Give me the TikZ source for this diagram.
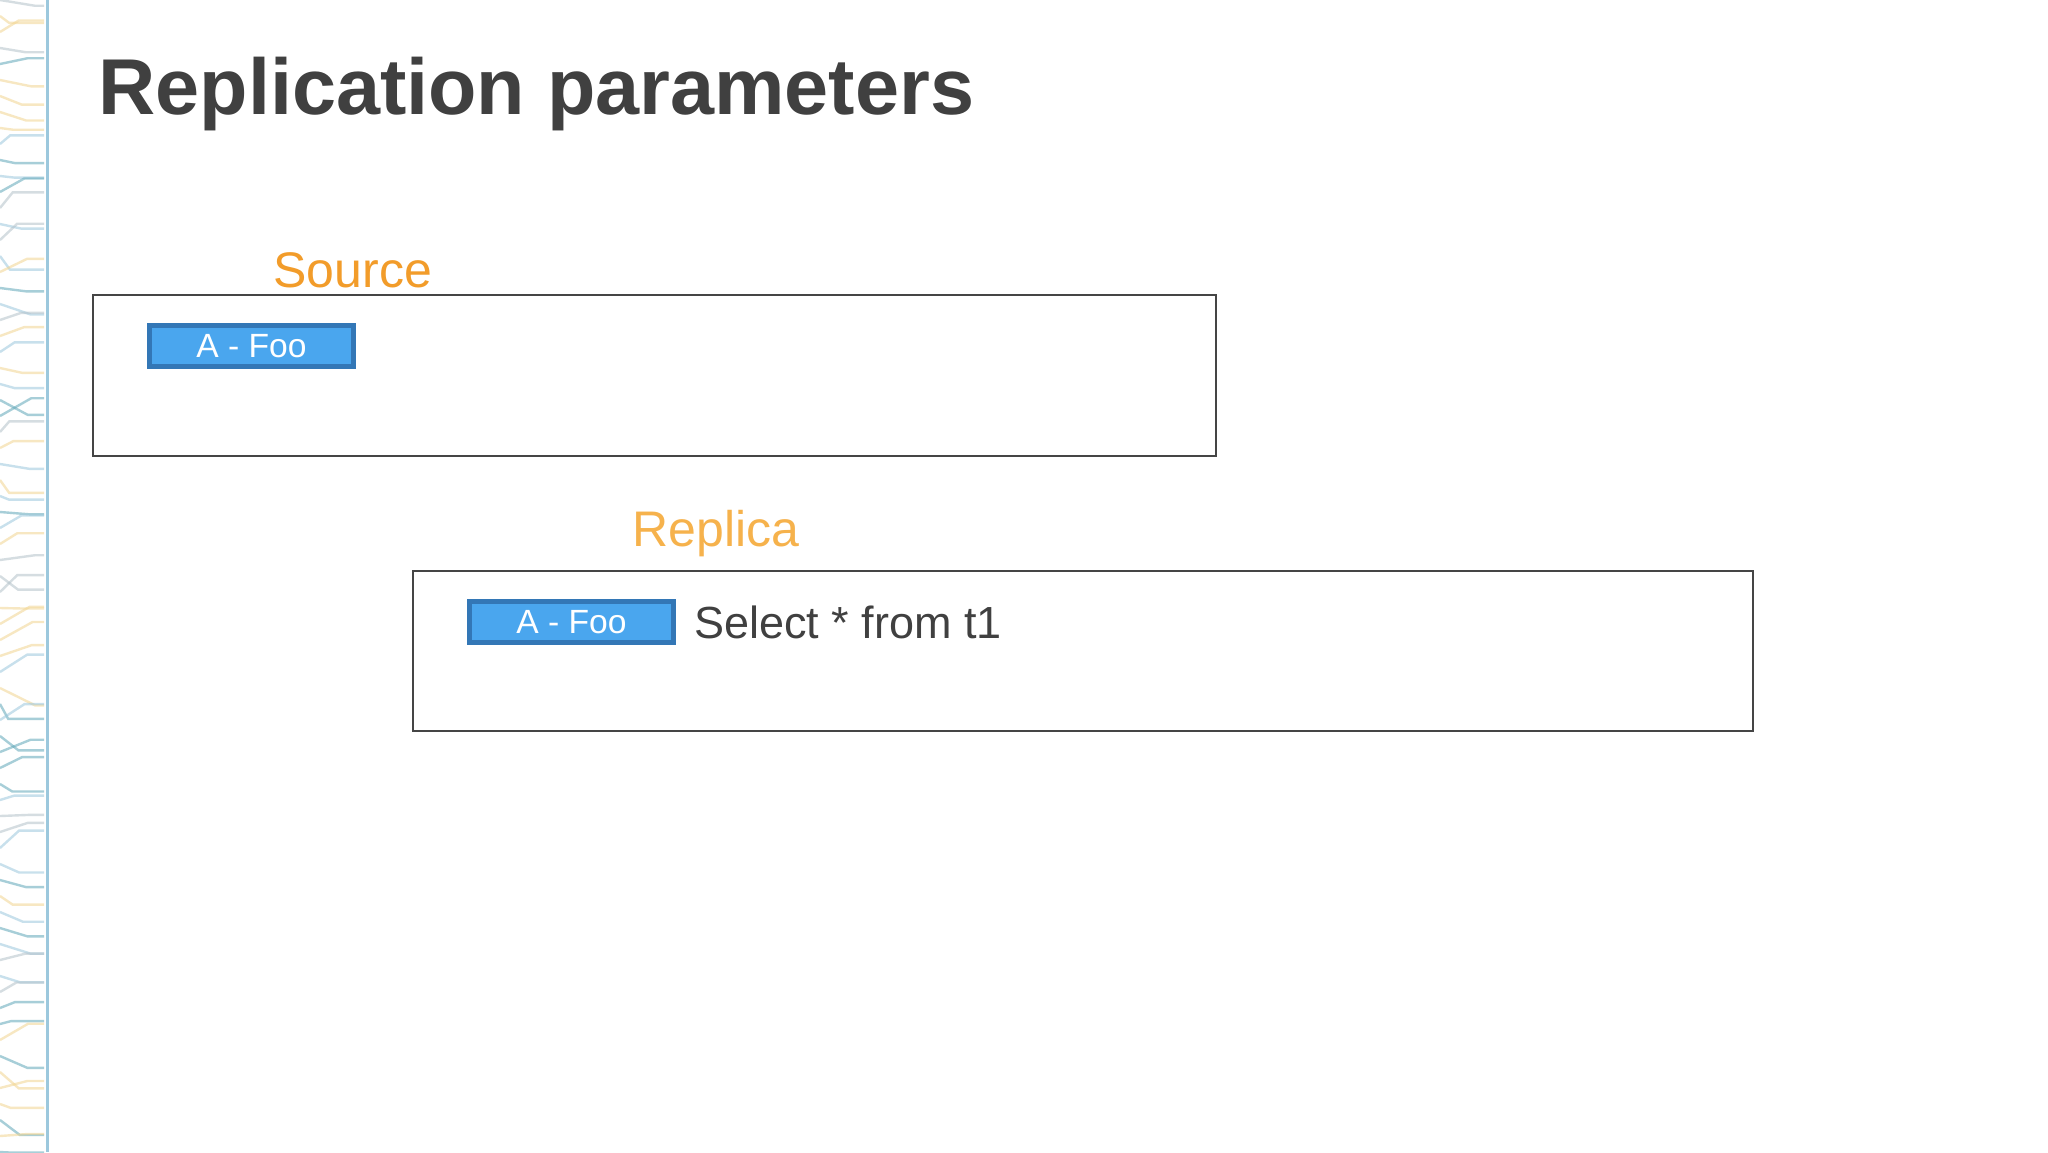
\documentclass[tikz,border=0pt]{standalone}
\usepackage{fontspec}
\setmainfont{Liberation Sans}
\usepackage{xcolor}
\usepackage{tikz}
\usetikzlibrary{calc, positioning}

\definecolor{titlegray}{HTML}{404040}
\definecolor{framegray}{HTML}{454545}
\definecolor{srcorange}{HTML}{F29C2A}
\definecolor{reporange}{HTML}{F6B24C}
\definecolor{tagfill}{HTML}{4AA6EE}
\definecolor{tagedge}{HTML}{3377B6}
\definecolor{strip1}{HTML}{5FA7B8}
\definecolor{strip2}{HTML}{9CC8DD}
\definecolor{strip3}{HTML}{F2D590}
\definecolor{strip4}{HTML}{B4C2CA}

\tikzset{
    framenode/.style = {draw=framegray, rectangle, line width=1pt, inner sep=0em, fill=none},
    tagnode/.style = {draw=tagedge, fill=tagfill, rectangle, line width=2.5pt, inner sep=0em,
      minimum width=102pt, minimum height=20.5pt, text=white, font=\fontsize{16.8}{18}\selectfont},
    titlenode/.style = {draw=none, fill=none, inner sep=0em, text=titlegray,
      font=\bfseries\fontsize{39.6}{48}\selectfont},
    labelnode/.style = {draw=none, fill=none, inner sep=0em,
      font=\fontsize{25}{30}\selectfont},
    querynode/.style = {draw=none, fill=none, inner sep=0em, text=titlegray,
      font=\fontsize{22.5}{27}\selectfont},
    stripline/.style = {line width=1.2pt, opacity=0.55}
}

\begin{document}
\begin{tikzpicture}[x=0.5pt, y=-0.5pt]
    \useasboundingbox[fill=white] (0,0) rectangle (2048,1152);

    % decorative strip on the left
    \pgfmathsetseed{11}
    \foreach \k in {0,...,72}{
      \pgfmathsetmacro\ya{\k*16}
      \pgfmathsetmacro\yb{\ya+rnd*36-18}
      \pgfmathsetmacro\xm{8+rnd*28}
      \pgfmathtruncatemacro\cc{random(1,4)}
      \draw[stripline, draw=strip\cc] (0,\ya) -- (\xm,\yb) -- (44,\yb);
    }
    \draw[strip2, line width=1.5pt] (47,0) -- (47,1152);

    \node [name=title, titlenode, anchor=base west] at (98,114) {Replication parameters};

    % source
    \node [name=srcbox, framenode, minimum width=561.5pt, minimum height=80.5pt] at (654.5,375.5) {};
    \node [name=srclbl, labelnode, text=srcorange, above right=3pt and 90.5pt of srcbox.north west] {Source};
    \node [name=srctag, tagnode, below right=14.5pt and 27.5pt of srcbox.north west] {A - Foo};

    % replica
    \node [name=repbox, framenode, minimum width=670pt, minimum height=80pt] at (1083,651) {};
    \node [name=replbl, labelnode, text=reporange, above right=6.5pt and 110pt of repbox.north west] {Replica};
    \node [name=reptag, tagnode, below right=14.5pt and 27.5pt of repbox.north west] {A - Foo};
    \node [name=query, querynode, right=9pt of reptag] {Select * from t1};
\end{tikzpicture}
\end{document}
